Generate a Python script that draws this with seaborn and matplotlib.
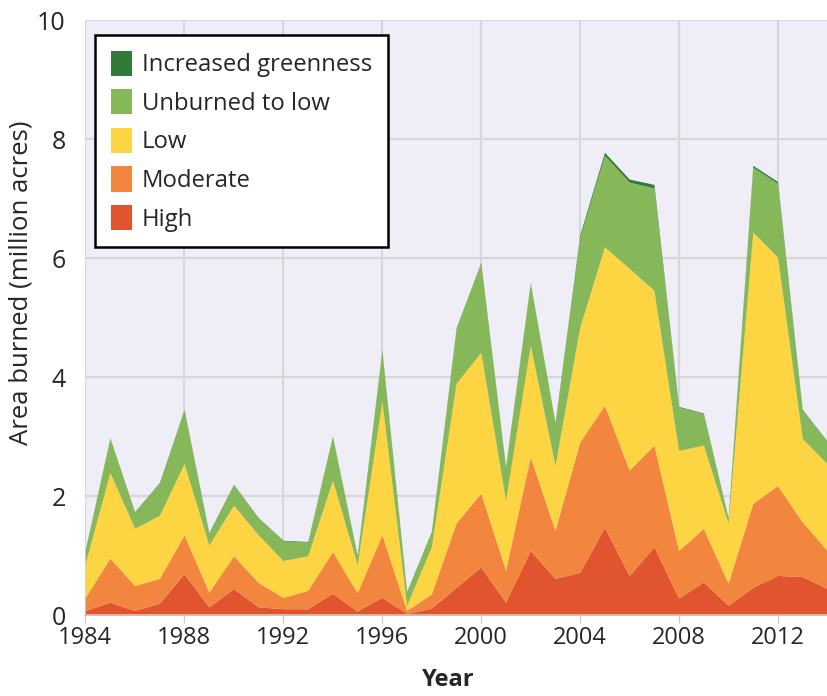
import numpy as np
import matplotlib
matplotlib.use("Agg")
import matplotlib.pyplot as plt
import seaborn as sns
from matplotlib.patches import Patch

# burn severity by year (million acres)
years = list(range(1984, 2015))
high = [0.08, 0.22, 0.08, 0.20, 0.70, 0.14, 0.45, 0.14, 0.11, 0.11, 0.37, 0.07, 0.30, 0.03, 0.12, 0.47,
        0.81, 0.22, 1.09, 0.62, 0.72, 1.48, 0.67, 1.15, 0.29, 0.56, 0.17, 0.47, 0.67, 0.65, 0.45]
moderate = [0.22, 0.74, 0.42, 0.42, 0.65, 0.25, 0.55, 0.41, 0.19, 0.31, 0.70, 0.31, 1.05, 0.05, 0.24, 1.08,
            1.24, 0.54, 1.57, 0.81, 2.19, 2.05, 1.77, 1.71, 0.80, 0.90, 0.37, 1.41, 1.51, 0.92, 0.64]
low = [0.57, 1.44, 0.96, 1.06, 1.20, 0.79, 0.85, 0.80, 0.62, 0.58, 1.20, 0.47, 2.25, 0.09, 0.79, 2.35,
       2.37, 1.17, 1.88, 1.09, 1.93, 2.66, 3.39, 2.60, 1.68, 1.40, 1.01, 4.56, 3.84, 1.40, 1.46]
unburned_low = [0.22, 0.57, 0.27, 0.54, 0.90, 0.20, 0.34, 0.28, 0.33, 0.23, 0.73, 0.15, 0.85, 0.22, 0.25, 0.92,
                1.50, 0.56, 1.04, 0.71, 1.51, 1.54, 1.45, 1.72, 0.73, 0.53, 0.08, 1.09, 1.24, 0.48, 0.37]
greenness = [0.01, 0.01, 0.01, 0.01, 0.01, 0.01, 0.01, 0.01, 0.01, 0.01, 0.01, 0.01, 0.01, 0.01, 0.01, 0.01,
             0.01, 0.01, 0.01, 0.01, 0.04, 0.05, 0.05, 0.06, 0.01, 0.01, 0.01, 0.03, 0.03, 0.01, 0.01]

labels = ["High", "Moderate", "Low", "Unburned to low", "Increased greenness"]
colors = ["#E0542E", "#F2863E", "#FDD441", "#86B85A", "#327A38"]

sns.set_theme(style="darkgrid", rc={
    "axes.facecolor": "#EFEDF5",
    "grid.color": "#D8D6DC",
    "grid.linewidth": 1.5,
})
plt.rcParams['font.family'] = ['Open Sans', 'DejaVu Sans']

fig, ax = plt.subplots(figsize=(8.27, 6.96), dpi=100)
fig.subplots_adjust(left=0.103, right=1.0, top=0.971, bottom=0.116)

ax.stackplot(years, high, moderate, low, unburned_low, greenness,
             colors=colors, labels=labels, linewidth=0, zorder=2)

ax.set_xlim(1984, 2014)
ax.set_ylim(0, 10)
ax.set_xticks(range(1984, 2014, 4))
ax.set_yticks(range(0, 11, 2))
ax.tick_params(axis='x', labelsize=17, bottom=True, length=6, width=1, color="#CCCCCC", pad=2)
ax.tick_params(axis='y', labelsize=18, left=False, pad=8)

for side in ['top', 'right', 'left']:
    ax.spines[side].set_visible(False)
ax.spines['bottom'].set_visible(True)
ax.spines['bottom'].set_color("#CCCCCC")
ax.spines['bottom'].set_linewidth(1.2)

ax.set_xlabel("Year", fontsize=17, fontweight='bold')
ax.xaxis.set_label_coords(0.49, -0.088)
ax.set_ylabel("Area burned (million acres)", fontsize=18.5)
ax.yaxis.set_label_coords(-0.069, 0.558)

handles = [Patch(facecolor=c, edgecolor='none') for c in colors][::-1]
leg = ax.legend(handles, labels[::-1], loc='upper left', bbox_to_anchor=(0.0135, 0.975),
                borderaxespad=0, fontsize=17.2, frameon=True, fancybox=False,
                edgecolor='black', facecolor='white', framealpha=1,
                handlelength=0.9, handleheight=1.25, handletextpad=0.4,
                labelspacing=0.5, borderpad=0.65)
leg.get_frame().set_linewidth(1.8)
leg.set_zorder(5)

fig.savefig("out.png", dpi=100)
